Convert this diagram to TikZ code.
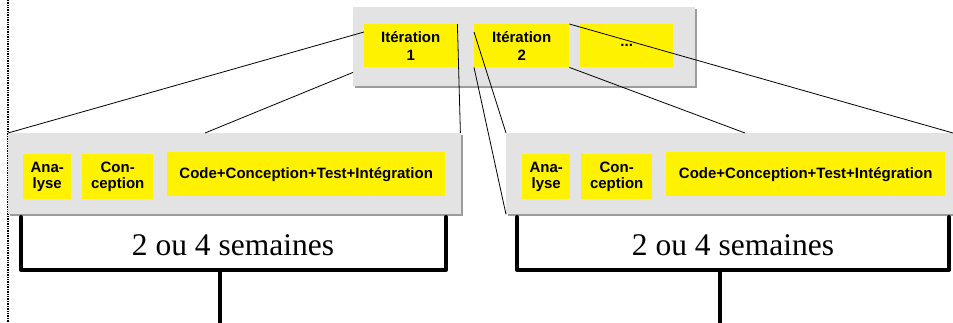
\documentclass[tikz,border=0pt]{standalone}
\usepackage{fontspec}
\setmainfont{Liberation Serif}
\setsansfont{Liberation Sans}
\usetikzlibrary{calc,shadows}
\definecolor{panelgrey}{HTML}{E3E3E3}
\definecolor{shadegrey}{HTML}{9C9C9C}
\tikzset{
  pnl/.style={fill=panelgrey, inner sep=0pt, anchor=north west,
    drop shadow={shadow xshift=2pt, shadow yshift=-2pt, fill=shadegrey, opacity=1}},
  ybox/.style={fill=yellow, inner sep=0pt, anchor=north west, align=center,
    font=\sffamily\bfseries\fontsize{15}{15.5}\selectfont},
  ytop/.style={ybox, font=\sffamily\bfseries\fontsize{15}{18}\selectfont},
  zoomline/.style={black, line width=0.8pt},
  bracket/.style={black, line width=4pt, line join=round, line cap=round},
  weeks/.style={font=\fontsize{31.5}{32}\selectfont, inner sep=0pt},
  sideline/.style={black, line width=2pt, dash pattern=on 1pt off 0.7pt}
}
\begin{document}
\begin{tikzpicture}[x=1pt,y=-1pt]
\useasboundingbox (0,0) rectangle (953,322);
% left dotted rule
\coordinate (s1) at (7.5,0);
\coordinate (s2) at (7.5,322);
\draw[sideline] (s1) -- (s2);
% panels
\node[pnl, minimum width=342pt, minimum height=79pt] (top) at (353,7) {};
\node[pnl, minimum width=453pt, minimum height=81pt] (p1) at (8,133) {};
\node[pnl, minimum width=448pt, minimum height=81pt] (p2) at (506,133) {};
% top yellow boxes
\node[ytop, minimum width=93pt, minimum height=43pt] (it1) at (364,24) {Itération\\1};
\node[ytop, minimum width=95pt, minimum height=43pt] (it2) at (474,24) {Itération\\2};
\node[ytop, minimum width=93pt, minimum height=43pt] (it3) at (580,24) {...};
% lower left
\node[ybox, minimum width=48pt, minimum height=45pt] (an1) at (23,154) {Ana-\\lyse};
\node[ybox, minimum width=71pt, minimum height=45pt] (co1) at (82,154) {Con-\\ception};
\node[ybox, minimum width=278pt, minimum height=44pt] (cc1) at (167,152) {Code+Conception+Test+Intégration};
% lower right
\node[ybox, minimum width=48pt, minimum height=45pt] (an2) at (522,154) {Ana-\\lyse};
\node[ybox, minimum width=71pt, minimum height=45pt] (co2) at (581,154) {Con-\\ception};
\node[ybox, minimum width=279pt, minimum height=44pt] (cc2) at (666,152) {Code+Conception+Test+Intégration};
% zoom lines
\draw[zoomline] ($(it1.north west)+(0,8)$) -- (p1.north west);
\draw[zoomline] ($(top.south west)+(0,-14)$) -- ($(p1.north west)+(197,0)$);
\draw[zoomline] (it1.north east) -- ($(p1.north east)+(-1,0)$);
\draw[zoomline] ($(it2.north west)+(0,8)$) -- (p2.north west);
\draw[zoomline] (it2.south west) -- (p2.south west);
\draw[zoomline] (it2.north east) -- ($(p2.north west)+(447,0)$);
\draw[zoomline] (it2.south east) -- ($(p2.north west)+(239,0)$);
% brackets
\node[weeks] (wk1) at (233,245) {2 ou 4 semaines};
\node[weeks] (wk2) at (733,245) {2 ou 4 semaines};
\coordinate (b1a) at (21,217); \coordinate (b1b) at (21,270);
\coordinate (b1c) at (446,270); \coordinate (b1d) at (446,217);
\coordinate (b1m) at (220,270); \coordinate (b1e) at (220,324);
\draw[bracket] (b1a) -- (b1b) -- (b1c) -- (b1d);
\draw[bracket, line cap=butt] (b1m) -- (b1e);
\coordinate (b2a) at (517,217); \coordinate (b2b) at (517,270);
\coordinate (b2c) at (949,270); \coordinate (b2d) at (949,217);
\coordinate (b2m) at (720,270); \coordinate (b2e) at (720,324);
\draw[bracket] (b2a) -- (b2b) -- (b2c) -- (b2d);
\draw[bracket, line cap=butt] (b2m) -- (b2e);
\end{tikzpicture}
\end{document}
